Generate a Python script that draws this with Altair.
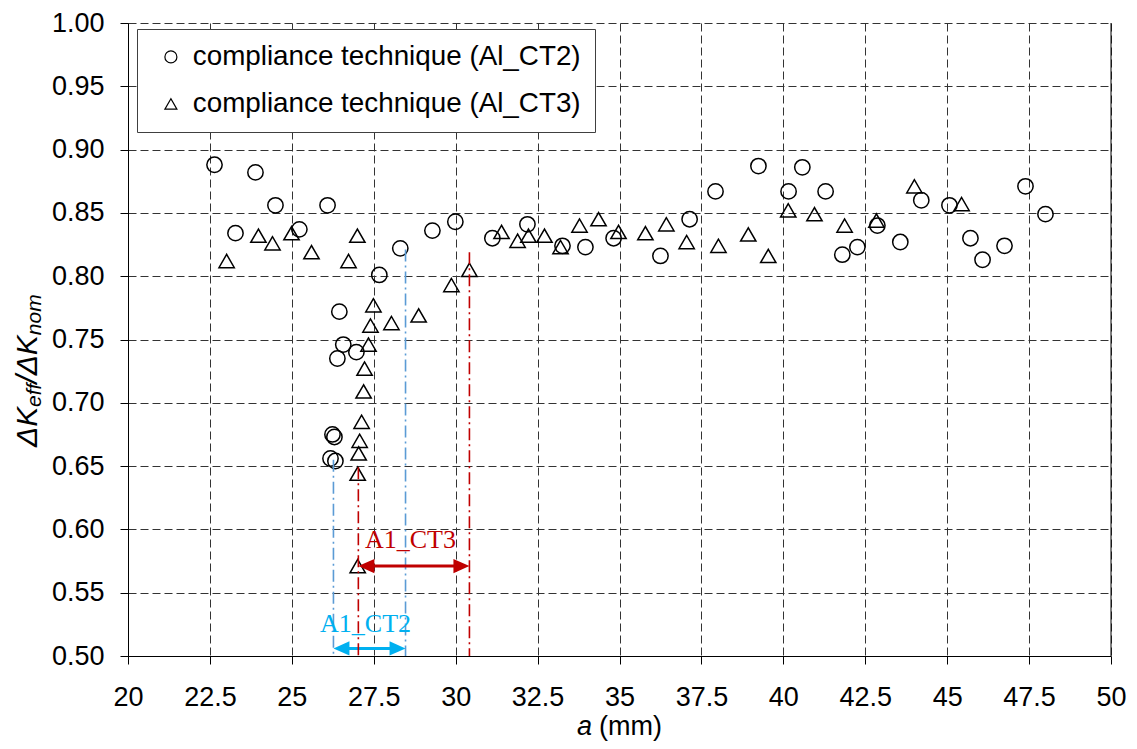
import altair as alt
import pandas as pd

# ---- data ----
ct2_a = [22.64, 23.28, 23.89, 24.50, 25.23, 26.09, 26.45, 26.57, 26.97, 26.39,
         26.24, 26.30, 26.18, 26.33, 27.67, 28.31, 29.29, 29.99, 31.12, 32.19,
         33.26, 33.96, 34.82, 36.25, 37.14, 37.93, 39.24, 40.16, 40.58, 41.29,
         41.80, 42.26, 42.87, 43.57, 44.21, 45.07, 45.71, 46.08, 46.75, 47.39, 48.00]
ct2_k = [0.888, 0.834, 0.882, 0.856, 0.837, 0.856, 0.772, 0.746, 0.740, 0.735,
         0.675, 0.673, 0.656, 0.654, 0.801, 0.822, 0.836, 0.843, 0.830, 0.841,
         0.824, 0.823, 0.830, 0.816, 0.845, 0.867, 0.887, 0.867, 0.886, 0.867,
         0.817, 0.823, 0.840, 0.827, 0.860, 0.856, 0.830, 0.813, 0.824, 0.871, 0.849]

ct3_a = [23.01, 23.98, 24.41, 24.99, 25.60, 26.73, 27.00, 27.49, 27.40, 28.04,
         28.87, 27.34, 27.22, 27.19, 27.13, 27.07, 27.04, 27.01, 27.01, 29.87,
         30.42, 31.40, 31.89, 32.22, 32.71, 33.20, 33.78, 34.36, 34.97, 35.79,
         36.43, 37.05, 38.02, 38.93, 39.54, 40.15, 40.95, 41.87, 42.84, 44.00, 45.44]
ct3_k = [0.812, 0.832, 0.826, 0.834, 0.819, 0.812, 0.832, 0.777, 0.761, 0.763,
         0.769, 0.746, 0.727, 0.709, 0.685, 0.670, 0.660, 0.644, 0.571, 0.793,
         0.805, 0.835, 0.828, 0.832, 0.832, 0.823, 0.840, 0.845, 0.835, 0.834,
         0.841, 0.827, 0.824, 0.833, 0.816, 0.852, 0.849, 0.840, 0.844, 0.871, 0.857]

series_names = ["compliance technique (Al_CT2)", "compliance technique (Al_CT3)"]

# annotated ranges (Al_CT2, Al_CT3)
range_labels = ["A1_CT2", "A1_CT3"]
range_start = [26.27, 27.03]
range_end = [28.47, 30.42]
range_start_top = [0.655, 0.649]
range_end_top = [0.821, 0.819]
arrow_k = [0.506, 0.571]
label_a = [27.25, 28.62]
label_k = [0.519, 0.585]

x_ticks = [20, 22.5, 25, 27.5, 30, 32.5, 35, 37.5, 40, 42.5, 45, 47.5, 50]
y_ticks = [0.50, 0.55, 0.60, 0.65, 0.70, 0.75, 0.80, 0.85, 0.90, 0.95, 1.00]

# ---- styling ----
line_colors = ["#5B9BD5", "#C00000"]
arrow_colors = ["#00B0F0", "#C00000"]
W, H = 983, 633
X_DOMAIN = [20, 50]
Y_DOMAIN = [0.5, 1.0]
HEAD_LEFT = "M0,0 L1,-0.44 L1,0.44 Z"
HEAD_RIGHT = "M0,0 L-1,-0.44 L-1,0.44 Z"
HEAD_SIZE = 1024
shaft_trim = 8 / (W / (X_DOMAIN[1] - X_DOMAIN[0]))
GRID = "#333333"

x_scale = alt.Scale(domain=X_DOMAIN, nice=False, zero=False)
y_scale = alt.Scale(domain=Y_DOMAIN, nice=False, zero=False)

df = pd.DataFrame({
    "a": ct2_a + ct3_a,
    "k": ct2_k + ct3_k,
    "series": [series_names[0]] * len(ct2_a) + [series_names[1]] * len(ct3_a),
})

points = alt.Chart(df).mark_point(filled=False, color="black", strokeWidth=1.5, opacity=1, size=235).encode(
    x=alt.X("a:Q", scale=x_scale, axis=alt.Axis(
        values=x_ticks, format=".1~f", title=None, grid=True, labelFlush=False,
        gridDash=[8, 4], gridColor=GRID, gridWidth=1,
        tickSize=8, labelPadding=20)),
    y=alt.Y("k:Q", scale=y_scale, axis=alt.Axis(
        values=y_ticks, format=".2f", title=None, grid=True, labelFlush=False,
        gridDash=[8, 4], gridColor=GRID, gridWidth=1,
        tickSize=8, labelPadding=16)),
    shape=alt.Shape("series:N", scale=alt.Scale(domain=series_names, range=["circle", "triangle-up"]),
                    legend=alt.Legend(title=None, orient="none", legendX=9, legendY=6,
                                      direction="vertical", labelFont="Liberation Sans",
                                      labelFontSize=27.8, labelColor="black", labelLimit=600,
                                      symbolSize=144, symbolStrokeWidth=1.2,
                                      symbolStrokeColor="black", symbolFillColor="white",
                                      padding=14, symbolOffset=6, labelOffset=8,
                                      rowPadding=18, strokeColor="#404040",
                                      fillColor="white", cornerRadius=0)),
)

layers = []
for i in range(2):
    vl = pd.DataFrame({"a": [range_start[i], range_end[i]],
                       "top": [range_start_top[i], range_end_top[i]],
                       "bottom": [Y_DOMAIN[0], Y_DOMAIN[0]]})
    layers.append(alt.Chart(vl).mark_rule(color=line_colors[i], strokeWidth=1.6,
                                          strokeDash=[12, 4, 2, 4]).encode(
        x=alt.X("a:Q"), y=alt.Y("top:Q"), y2="bottom:Q"))
    shaft = pd.DataFrame({"a": [range_start[i] + shaft_trim], "a2": [range_end[i] - shaft_trim],
                          "k": [arrow_k[i]]})
    layers.append(alt.Chart(shaft).mark_rule(color=arrow_colors[i], strokeWidth=3).encode(
        x=alt.X("a:Q"), x2="a2:Q", y=alt.Y("k:Q")))
    lh = pd.DataFrame({"a": [range_start[i]], "k": [arrow_k[i]]})
    layers.append(alt.Chart(lh).mark_point(shape=HEAD_LEFT, filled=True, opacity=1,
                                           color=arrow_colors[i], size=HEAD_SIZE, strokeWidth=0).encode(
        x=alt.X("a:Q"), y=alt.Y("k:Q")))
    rh = pd.DataFrame({"a": [range_end[i]], "k": [arrow_k[i]]})
    layers.append(alt.Chart(rh).mark_point(shape=HEAD_RIGHT, filled=True, opacity=1,
                                           color=arrow_colors[i], size=HEAD_SIZE, strokeWidth=0).encode(
        x=alt.X("a:Q"), y=alt.Y("k:Q")))
    lb = pd.DataFrame({"a": [label_a[i]], "k": [label_k[i]], "t": [range_labels[i]]})
    layers.append(alt.Chart(lb).mark_text(font="Liberation Serif", fontSize=26, color=arrow_colors[i],
                                          align="center", baseline="alphabetic").encode(
        x=alt.X("a:Q"), y=alt.Y("k:Q"), text="t:N"))

# right frame line (solid)
frame = alt.Chart(pd.DataFrame({"a": [X_DOMAIN[1]]})).mark_rule(color="black", strokeWidth=1).encode(
    x=alt.X("a:Q"))

anchor = pd.DataFrame({"n": [0]})


def piece(text, x, y, size, angle=0, italic=True):
    return alt.Chart(anchor).mark_text(
        text=text, font="Liberation Sans", fontSize=size,
        fontStyle="italic" if italic else "normal", angle=angle,
        align="left", baseline="alphabetic", color="black").encode(
        x=alt.value(x), y=alt.value(y))


title_pieces = [
    piece("ΔK", -91, 424, 30, angle=270),
    piece("eff", -87, 384, 21, angle=270),
    piece("/ΔK", -91, 360.6, 30, angle=270),
    piece("nom", -87, 312.2, 21, angle=270),
    piece("a", 449, 712, 27),
    piece("(mm)", 471, 712, 27, italic=False),
]

chart = alt.layer(points, *layers, frame, *title_pieces).properties(
    width=W, height=H,
    padding={"left": 120, "top": 15, "right": 16, "bottom": 85},
    autosize=alt.AutoSizeParams(type="none"),
).configure_view(stroke=None).configure_axis(
    domainColor="black", domainWidth=1, tickColor="black", tickWidth=1,
    labelFont="Liberation Sans", labelFontSize=27, labelColor="black",
)

chart.save("out.html", embed_options={"renderer": "svg", "actions": False})
